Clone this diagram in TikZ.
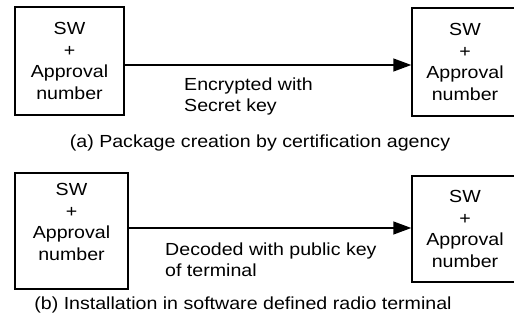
\documentclass[tikz,border=0pt]{standalone}
\usepackage{fontspec}
\setmainfont{Liberation Sans}[FakeStretch=1.12]
\usetikzlibrary{arrows.meta}

\begin{document}
\begin{tikzpicture}[x=1pt, y=-1pt,
		swbox/.style={draw, line width=1.5pt, align=center, inner sep=0pt,
			font=\fontsize{17.5}{21.5}\selectfont},
		txt/.style={inner sep=0pt, font=\fontsize{17.5}{21}\selectfont},
		arr/.style={line width=1.5pt, -{Triangle[length=18pt, width=13pt]}}]
		%%%%% START %%%%%
		\useasboundingbox (0, 0) rectangle (514, 320);
		
		% (a)
		\node[swbox, minimum width=109pt, minimum height=108pt] (swA) at (69.5, 61) {SW\\+\\Approval\\number};
		\node[swbox, minimum width=106pt, minimum height=108pt] (swB) at (465, 62) {SW\\+\\Approval\\number};
		\draw[arr] ([yshift=-4pt]swA.east) -- ([yshift=-3pt]swB.west);
		\node[txt, anchor=west, align=left] (encA) at (184, 96) {Encrypted with\\Secret key};
		\node[txt] (capA) at (260, 143) {(a) Package creation by certification agency};
		
		% (b)
		\node[swbox, minimum width=113pt, minimum height=116pt, text depth=18pt] (swC) at (71.5, 231) {SW\\+\\Approval\\number};
		\node[swbox, minimum width=106pt, minimum height=106pt] (swD) at (465, 229) {SW\\+\\Approval\\number};
		\draw[arr] ([yshift=3pt]swC.east) -- ([yshift=1pt]swD.west);
		\node[txt, anchor=west, align=left] (decB) at (165, 260) {Decoded with public key\\of terminal};
		\node[txt] (capB) at (243, 305) {(b) Installation in software defined radio terminal};
		%%%%% END %%%%%
	\end{tikzpicture}
\end{document}
